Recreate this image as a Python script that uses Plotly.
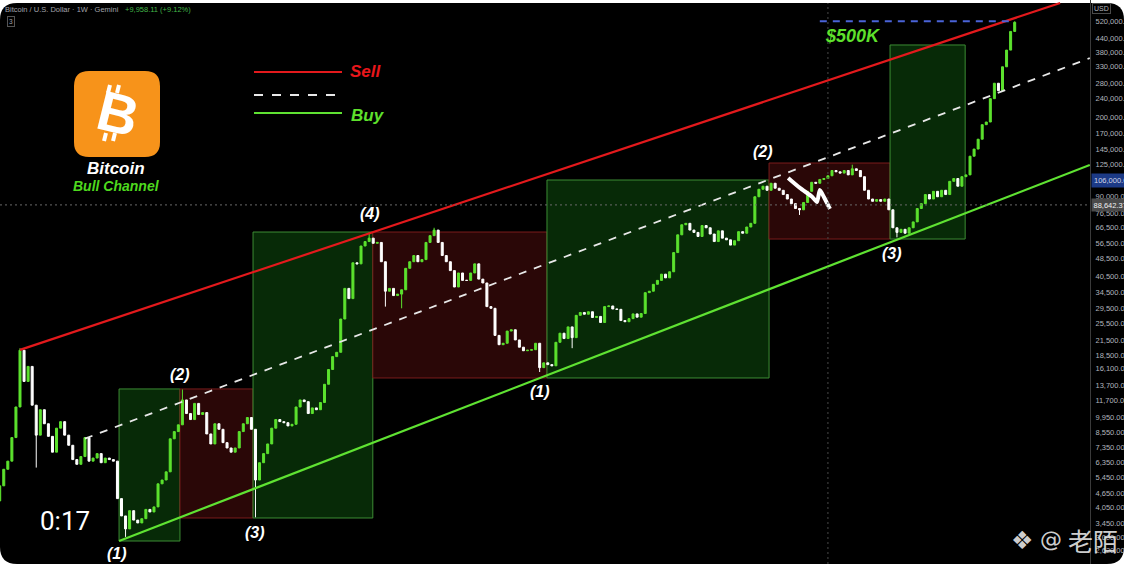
import math

import pandas as pd
import plotly.graph_objects as go

# ── Canvas ───────────────────────────────────────────────────────────────────
W, H = 1124, 564
PLOT_W = 1090                     # price scale starts here
BG = "#000000"
UP = "#5CE22E"
DOWN = "#FFFFFF"
RED = "#E3191C"
GREEN_LINE = "#5FE232"
AXIS_TXT = "#B2B5BE"

# ── Data: 2-week candles, Bitcoin / USD (Gemini) + projected path ───────────
START = pd.Timestamp("2017-10-02")
STEP = pd.Timedelta(days=14)
FIRST_OPEN = 4300
CLOSES = [
    5000, 5900, 6400, 8100, 11000, 19400, 14200, 16500, 11200, 8300,
    10700, 9300, 8200, 7000, 8900, 9500, 8300, 7500, 6500, 6200,
    6700, 8100, 6400, 6600, 6900, 6300, 6600, 6500, 6400, 4400,
    3700, 3250, 3900, 3550, 3450, 3600, 3950, 3850, 4050, 5100,
    5300, 5750, 8000, 8600, 9200, 11800, 10300, 9700, 11400, 10200,
    10400, 8400, 7600, 9300, 8800, 7700, 7300, 7000, 7300, 8600,
    9300, 9900, 8800, 5300, 6300, 6900, 7600, 8900, 9700, 9500,
    9400, 9100, 9250, 11000, 11800, 11600, 10300, 10900, 10700, 11500,
    13800, 16000, 18200, 19000, 26500, 36000, 32500, 46500, 46000, 55000,
    57500, 59500, 56500, 57000, 47000, 35000, 36000, 33500, 34000, 35500,
    44000, 47000, 50000, 47000, 48000, 57000, 61000, 64500, 57000, 50000,
    47000, 43000, 36500, 42000, 39000, 39000, 42000, 46000, 39500, 38000,
    30000, 29500, 22500, 20500, 20800, 23500, 23800, 21500, 20000, 19300,
    19400, 19500, 20800, 16300, 17100, 16800, 16600, 21000, 23000, 21800,
    24500, 22000, 27500, 28300, 27800, 28500, 26900, 27200, 25600, 30000,
    30200, 29300, 29200, 26100, 25800, 26600, 27900, 27000, 28000, 34500,
    35000, 37500, 39000, 41500, 40000, 42500, 51500, 61500, 68000, 69000,
    64500, 63000, 60500, 67500, 66000, 62000, 57500, 64000, 59500, 58500,
    55500, 58000, 63500, 62500, 66500, 69000, 90000, 97000, 100000, 96000,
    103000, 98000, 96000, 92000, 88000, 84000, 80000, 79000, 85000, 95000,
    104000, 103000, 107000, 108000, 111000, 117000, 115500, 114000, 117000, 112000,
    119000, 117000, 110000, 96000, 88000, 86000, 87500, 86000, 88000, 79000,
    66000, 63000, 65000, 62500, 66000, 70000, 80000, 84000, 92000, 88000,
    95000, 90000, 96000, 92000, 105000, 108000, 100000, 110000, 112000, 135000,
    145000, 160000, 185000, 190000, 240000, 280000, 260000, 330000, 390000, 470000,
    515000,
]
WICK_HIGH = {5: 19800, 45: 13100, 91: 63000, 107: 66000, 210: 124000, 250: 520000}
WICK_LOW = {9: 6000, 31: 3000, 63: 3650, 95: 30000, 99: 29500, 133: 15600,
            141: 19800, 197: 75000, 221: 60000}

# ── Drawings: (candle position, price) ───────────────────────────────────────
SELL_LINE = [(5.0, 19460), (261.2, 625000)]
MID_LINE = [(21.0, 8020), (268.5, 360000)]
BUY_LINE = [(29.4, 2880), (268.5, 123600)]
TARGET = [(202.0, 249.6), 520000]
BOXES = [
    ("buy", 29.4, 44.4, 2880, 13170),
    ("sell", 44.4, 62.4, 3625, 13170),
    ("buy", 62.4, 91.9, 3625, 63250),
    ("sell", 91.9, 134.8, 14700, 63250),
    ("buy", 134.8, 189.5, 14700, 106400),
    ("sell", 189.5, 219.3, 58970, 126100),
    ("buy", 219.3, 237.8, 58970, 410500),
]
WAVES = [
    ("(1)", 28.9, 2553), ("(2)", 44.4, 15290), ("(3)", 62.9, 3150),
    ("(4)", 91.2, 76500), ("(1)", 133.1, 12780), ("(2)", 188.0, 140800),
    ("(3)", 219.8, 50800),
]
DOODLE_POS = [194.2, 197.1, 200.1, 201.3, 202.0, 203.0, 204.5]
DOODLE_PRICE = [108600, 98300, 90000, 85400, 96300, 89800, 79700]
CROSS_POS, CROSS_PRICE = 204.0, 82950
X_RANGE = (0.074, 268.55)
Y_RANGE = (3.3595, 5.8086)        # log10 of price
TICKS = [520000, 440000, 380000, 330000, 280000, 240000, 200000, 170000,
         145000, 125000, 90000, 76500, 66500, 56500, 48500, 40500, 34500,
         29500, 25500, 21500, 18500, 16100, 13700, 11700, 9950, 8550, 7350,
         6350, 5450, 4650, 4050, 3450, 3000, 2620]

FONT = "Liberation Sans"
AXIS_FONT = "Liberation Sans Narrow, Liberation Sans"


def at(pos):
    return START + STEP * pos


def px(x):
    return x / PLOT_W


def py(y):
    return 1 - y / H


def rounded(x0, y0, x1, y1, r):
    # rounded rectangle in paper units, corners given in image pixels
    rx, ry = r / PLOT_W, r / H
    a, b, c, d = px(x0), py(y1), px(x1), py(y0)
    return (f"M {a + rx},{d} L {c - rx},{d} Q {c},{d} {c},{d - ry} "
            f"L {c},{b + ry} Q {c},{b} {c - rx},{b} L {a + rx},{b} "
            f"Q {a},{b} {a},{b + ry} L {a},{d - ry} Q {a},{d} {a + rx},{d} Z")


opens = [FIRST_OPEN] + CLOSES[:-1]
highs = [max(o, c, WICK_HIGH.get(i, 0)) for i, (o, c) in enumerate(zip(opens, CLOSES))]
lows = [min(o, c, WICK_LOW.get(i, math.inf)) for i, (o, c) in enumerate(zip(opens, CLOSES))]
dates = [at(i) for i in range(len(CLOSES))]

fig = go.Figure()

fig.add_trace(go.Candlestick(
    x=dates, open=opens, high=highs, low=lows, close=CLOSES,
    increasing=dict(line=dict(color=UP, width=1), fillcolor=UP),
    decreasing=dict(line=dict(color=DOWN, width=1), fillcolor=DOWN),
    whiskerwidth=0, hoverinfo="skip", showlegend=False,
))

# channel lines
for pts, color, dash, width in [
    (SELL_LINE, RED, "solid", 2.2),
    (MID_LINE, "#E8E8E8", "8px,8px", 1.8),
    (BUY_LINE, GREEN_LINE, "solid", 2.2),
]:
    fig.add_trace(go.Scatter(
        x=[at(p) for p, _ in pts], y=[v for _, v in pts], mode="lines",
        line=dict(color=color, width=width, dash=dash),
        hoverinfo="skip", showlegend=False,
    ))

fig.add_trace(go.Scatter(
    x=[at(p) for p in TARGET[0]], y=[TARGET[1]] * 2, mode="lines",
    line=dict(color="#4A63D8", width=2, dash="7px,6px"),
    hoverinfo="skip", showlegend=False,
))

# hand drawn stroke
fig.add_trace(go.Scatter(
    x=[at(p) for p in DOODLE_POS], y=DOODLE_PRICE, mode="lines",
    line=dict(color="white", width=4, shape="spline", smoothing=0.6),
    hoverinfo="skip", showlegend=False,
))

# crosshair
fig.add_trace(go.Scatter(
    x=[at(X_RANGE[0]), at(X_RANGE[1])], y=[CROSS_PRICE] * 2, mode="lines",
    line=dict(color="#6A6A6A", width=1, dash="2px,3px"),
    hoverinfo="skip", showlegend=False,
))
fig.add_shape(type="line", xref="x", yref="paper", x0=at(CROSS_POS), x1=at(CROSS_POS),
              y0=0, y1=py(3), line=dict(color="#4A4A4A", width=1, dash="2px,3px"))

# buy / sell zones
for kind, a, b, lo, hi in BOXES:
    fill, edge = ("#072A07", "#3C8C34") if kind == "buy" else ("#2A0707", "#7A1C1C")
    fig.add_shape(type="rect", xref="x", yref="y", x0=at(a), x1=at(b), y0=lo, y1=hi,
                  fillcolor=fill, line=dict(color=edge, width=1), layer="below")

# black screen with rounded corners
fig.add_shape(type="path", xref="paper", yref="paper", path=rounded(0, 3, W, H, 17),
              fillcolor=BG, line=dict(width=0), layer="below")

annotations = []
for text, pos, price in WAVES:
    annotations.append(dict(
        x=at(pos), y=math.log10(price), xref="x", yref="y", text=f"<b><i>{text}</i></b>",
        font=dict(size=16, color="white", family=FONT),
    ))
annotations.append(dict(
    x=at(210.2), y=math.log10(450000), xref="x", yref="y", text="<b><i>$500K</i></b>",
    font=dict(size=18, color="#5EE12C", family=FONT),
))

# legend block
for y, color, dash in [(72, RED, "solid"), (95, "#E8E8E8", "dash"), (113, GREEN_LINE, "solid")]:
    fig.add_shape(type="line", xref="paper", yref="paper", x0=px(254), x1=px(342),
                  y0=py(y), y1=py(y), line=dict(color=color, width=2, dash=dash))
annotations += [
    dict(x=px(366), y=py(72), text="<b><i>Sell</i></b>",
         font=dict(size=17, color="#E8161B", family=FONT)),
    dict(x=px(368), y=py(115), text="<b><i>Buy</i></b>",
         font=dict(size=17, color="#5EE12C", family=FONT)),
]

# bitcoin logo
fig.add_shape(type="path", xref="paper", yref="paper", path=rounded(74, 71, 160, 157, 15),
              fillcolor="#F7931A", line=dict(width=0))
annotations.append(dict(
    x=px(118), y=py(113), text="<b>B</b>", textangle=14,
    font=dict(size=56, color="white", family=FONT),
))
for x_bot, y_bot, x_top, y_top in [(108, 93, 110, 85), (117, 93, 119, 85),
                                   (104, 141, 106, 133), (113, 141, 115, 133)]:
    fig.add_shape(type="line", xref="paper", yref="paper", x0=px(x_bot), y0=py(y_bot),
                  x1=px(x_top), y1=py(y_top), line=dict(color="white", width=4))
annotations += [
    dict(x=px(116), y=py(169), text="<b><i>Bitcoin</i></b>",
         font=dict(size=17, color="white", family=FONT)),
    dict(x=px(116), y=py(186), text="<b><i>Bull Channel</i></b>",
         font=dict(size=14, color="#4ED91E", family=FONT)),
]

# chart chrome
annotations += [
    dict(x=px(3), y=py(9.5), xanchor="left", text="Bitcoin / U.S. Dollar · 1W · Gemini",
         font=dict(size=7.5, color="#A0A3AB", family=FONT)),
    dict(x=px(123), y=py(9.5), xanchor="left", text="+9,958.11 (+9.12%)",
         font=dict(size=7.5, color="#43B649", family=FONT)),
    dict(x=px(11), y=py(21), text="3", bordercolor="#555555", borderwidth=1, borderpad=1,
         font=dict(size=6.5, color="#A0A3AB", family=FONT)),
    dict(x=px(1092), y=py(9), xanchor="left", text="USD", bordercolor="#4A4A4A",
         borderwidth=1, borderpad=1,
         font=dict(size=7, color=AXIS_TXT, family=AXIS_FONT)),
    dict(x=1.0, y=math.log10(106000), xref="paper", yref="y", xanchor="left", xshift=1,
         text="106,000.00 ", bgcolor="#1C3A86", borderpad=2,
         font=dict(size=7.5, color="#D0D6E6", family=AXIS_FONT)),
    dict(x=1.0, y=math.log10(CROSS_PRICE), xref="paper", yref="y", xanchor="left", xshift=1,
         text="88,642.37 ", bgcolor="#4A4A4A", borderpad=1.5,
         font=dict(size=7.5, color="#F0F0F0", family=AXIS_FONT)),
    dict(x=px(65), y=py(521), text="0:17",
         font=dict(size=26, color="white", family="Roboto")),
    dict(x=px(1022), y=py(540), text="❖",
         font=dict(size=25, color="rgba(235,235,235,0.9)", family="DejaVu Sans")),
    dict(x=px(1051), y=py(539), text="@",
         font=dict(size=22, color="rgba(235,235,235,0.9)", family="DejaVu Sans")),
    dict(x=px(1093), y=py(540), text="老陌",
         font=dict(size=25, color="rgba(235,235,235,0.9)", family="Noto Sans CJK SC")),
]
for ann in annotations:
    ann.setdefault("xref", "paper")
    ann.setdefault("yref", "paper")
    ann.setdefault("xanchor", "center")
    ann.setdefault("yanchor", "middle")
    ann.setdefault("showarrow", False)

fig.update_layout(
    width=W, height=H,
    margin=dict(l=0, r=W - PLOT_W, t=0, b=0, autoexpand=False),
    paper_bgcolor="white",
    plot_bgcolor="rgba(0,0,0,0)",
    showlegend=False,
    annotations=annotations,
    xaxis=dict(
        range=[at(X_RANGE[0]), at(X_RANGE[1])], rangeslider=dict(visible=False),
        showticklabels=False, showgrid=False, zeroline=False, ticks="", automargin=False,
    ),
    yaxis=dict(
        type="log", side="right", range=list(Y_RANGE), automargin=False,
        tickvals=TICKS, tickformat=",.2f", ticks="", ticklabelstandoff=3,
        tickfont=dict(size=7.5, color=AXIS_TXT, family=AXIS_FONT),
        showgrid=False, zeroline=False,
        showline=True, linecolor="#3A3A3A", linewidth=1,
    ),
)

fig.write_html(
    "out.html",
    config={"displayModeBar": False},
    post_script="document.body.style.margin='0';document.body.style.overflow='hidden';",
)
